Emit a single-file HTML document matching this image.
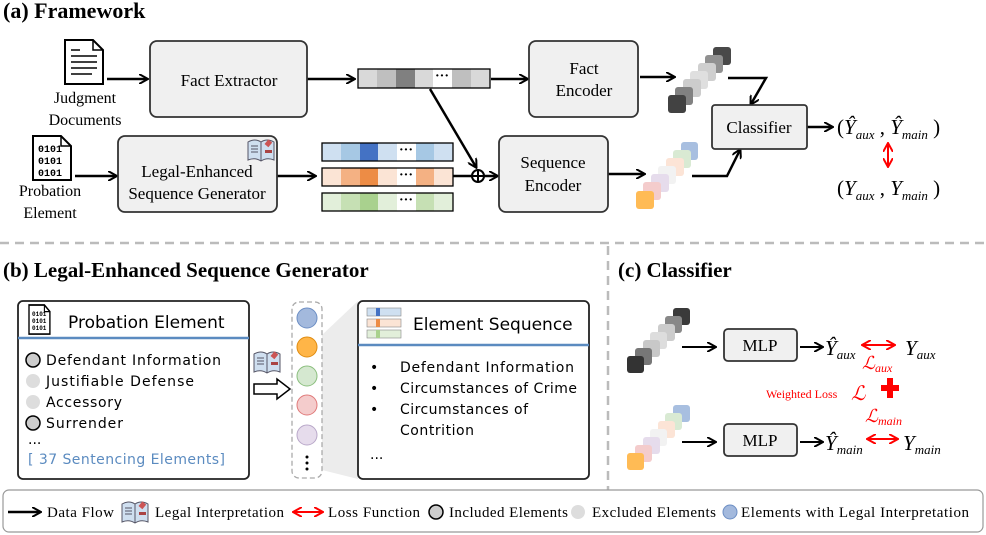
<!DOCTYPE html>
<html><head><meta charset="utf-8"><style>
body{margin:0;background:#fff}
svg{display:block}
.serif{font-family:"Liberation Serif",serif}
.sans{font-family:"DejaVu Sans","Liberation Sans",sans-serif}
</style></head><body>
<svg width="986" height="535" viewBox="0 0 986 535" xmlns="http://www.w3.org/2000/svg">
<defs>
<marker id="ah" markerWidth="10" markerHeight="10" refX="8" refY="5" orient="auto" markerUnits="userSpaceOnUse">
<path d="M0,0 L9,5 L0,10" fill="none" stroke="#000" stroke-width="2"/></marker>
<marker id="rh" markerWidth="10" markerHeight="10" refX="8" refY="5" orient="auto-start-reverse" markerUnits="userSpaceOnUse">
<path d="M0,0 L9,5 L0,10" fill="none" stroke="#f00" stroke-width="2"/></marker>
<g id="doc"><path d="M0,0 H28 L38,10 V44 H0 Z" fill="#fff" stroke="#000" stroke-width="2"/><path d="M28,0 V10 H38" fill="none" stroke="#000" stroke-width="1.5"/></g>
<g id="book"><path d="M1,4 Q8,0 14,4 Q20,0 27,4 V22 Q20,19 14,23 Q8,19 1,22 Z" fill="#cfdff0" stroke="#556" stroke-width="1"/><line x1="14" y1="4" x2="14" y2="23" stroke="#556"/><rect x="18" y="12" width="7" height="3" fill="#a44"/><rect x="19" y="2" width="5" height="6" fill="#c55" transform="rotate(40 21 5)"/><path d="M4,8 H11 M4,11 H11 M4,14 H11" stroke="#556" stroke-width="1"/></g>
</defs>

<!-- (a) -->
<text x="3" y="18" class="serif" font-weight="bold" font-size="22">(a) Framework</text>
<use href="#doc" x="65" y="40"/>
<g stroke="#000" stroke-width="1.5"><line x1="71" y1="50" x2="80" y2="50"/><line x1="71" y1="56" x2="97" y2="56"/><line x1="71" y1="62" x2="97" y2="62"/><line x1="71" y1="68" x2="97" y2="68"/><line x1="71" y1="74" x2="92" y2="74"/></g>
<text x="85" y="103" text-anchor="middle" class="serif" font-size="16">Judgment</text>
<text x="85" y="125" text-anchor="middle" class="serif" font-size="16">Documents</text>
<use href="#doc" x="33" y="136"/>
<g font-family="Liberation Mono,monospace" font-size="10" font-weight="bold"><text x="38" y="152">0101</text><text x="38" y="164">0101</text><text x="38" y="176">0101</text></g>
<text x="50" y="196" text-anchor="middle" class="serif" font-size="16">Probation</text>
<text x="50" y="218" text-anchor="middle" class="serif" font-size="16">Element</text>
<g stroke="#000" stroke-width="2.5" fill="none" marker-end="url(#ah)">
<line x1="107" y1="79" x2="147" y2="79"/>
<line x1="307" y1="79" x2="354" y2="79"/>
<line x1="491" y1="79" x2="527" y2="79"/>
<line x1="640" y1="77" x2="674" y2="77"/>
<line x1="75" y1="176" x2="116" y2="176"/>
<line x1="277" y1="176" x2="315" y2="176"/>
<line x1="430" y1="89" x2="476" y2="167"/>
<line x1="484" y1="176" x2="497" y2="176"/>
<line x1="608" y1="174" x2="644" y2="174"/>
<polyline points="728,78 766,78 751,104"/>
<polyline points="692,176 727,176 740,150"/>
<line x1="807" y1="127" x2="832" y2="127"/>
</g>
<line x1="453" y1="176" x2="472" y2="176" stroke="#000" stroke-width="2.5"/>
<circle cx="478" cy="176" r="6" fill="#fff" stroke="#000" stroke-width="2"/>
<line x1="472" y1="176" x2="484" y2="176" stroke="#000" stroke-width="2"/><line x1="478" y1="170" x2="478" y2="182" stroke="#000" stroke-width="2"/>

<g fill="#f0f0f0" stroke="#333" stroke-width="1.8">
<rect x="150" y="41" width="157" height="76" rx="7"/>
<rect x="529" y="41" width="109" height="76" rx="7"/>
<rect x="118" y="136" width="159" height="76" rx="7"/>
<rect x="499" y="136" width="109" height="76" rx="7"/>
<rect x="712" y="105" width="95" height="44" rx="3"/>
</g>
<g class="serif" font-size="17" text-anchor="middle">
<text x="229" y="86">Fact Extractor</text>
<text x="584" y="74">Fact</text><text x="584" y="96">Encoder</text>
<text x="197" y="177">Legal-Enhanced</text><text x="197" y="199">Sequence Generator</text>
<text x="553" y="168">Sequence</text><text x="553" y="191">Encoder</text>
<text x="759" y="133">Classifier</text>
</g>
<use href="#book" x="247" y="138"/>

<!-- vectors -->
<g stroke="none">
<rect x="358" y="69" width="19" height="19" fill="#d9d9d9"/><rect x="377" y="69" width="19" height="19" fill="#bfbfbf"/><rect x="396" y="69" width="19" height="19" fill="#808080"/><rect x="415" y="69" width="18" height="19" fill="#d9d9d9"/><rect x="433" y="69" width="19" height="19" fill="#fff"/><rect x="452" y="69" width="19" height="19" fill="#bfbfbf"/><rect x="471" y="69" width="19" height="19" fill="#d9d9d9"/>
<rect x="322" y="143" width="19" height="18" fill="#cfe0f1"/><rect x="341" y="143" width="19" height="18" fill="#a6c8e4"/><rect x="360" y="143" width="18" height="18" fill="#4472c4"/><rect x="378" y="143" width="19" height="18" fill="#cfe0f1"/><rect x="397" y="143" width="19" height="18" fill="#fff"/><rect x="416" y="143" width="18" height="18" fill="#a6c8e4"/><rect x="434" y="143" width="19" height="18" fill="#cfe0f1"/>
<rect x="322" y="168" width="19" height="18" fill="#fbe4d5"/><rect x="341" y="168" width="19" height="18" fill="#f4b183"/><rect x="360" y="168" width="18" height="18" fill="#ed8c45"/><rect x="378" y="168" width="19" height="18" fill="#fbe4d5"/><rect x="397" y="168" width="19" height="18" fill="#fff"/><rect x="416" y="168" width="18" height="18" fill="#f4b183"/><rect x="434" y="168" width="19" height="18" fill="#fbe4d5"/>
<rect x="322" y="193" width="19" height="18" fill="#e2efda"/><rect x="341" y="193" width="19" height="18" fill="#c6e0b4"/><rect x="360" y="193" width="18" height="18" fill="#a9d18e"/><rect x="378" y="193" width="19" height="18" fill="#e2efda"/><rect x="397" y="193" width="19" height="18" fill="#fff"/><rect x="416" y="193" width="18" height="18" fill="#c6e0b4"/><rect x="434" y="193" width="19" height="18" fill="#e2efda"/>
</g>
<g fill="none" stroke="#000" stroke-width="1.3">
<rect x="358" y="69" width="132" height="19"/><rect x="322" y="143" width="131" height="18"/><rect x="322" y="168" width="131" height="18"/><rect x="322" y="193" width="131" height="18"/>
</g>
<g class="serif" font-size="14" font-weight="bold" text-anchor="middle"><text x="442" y="80">···</text><text x="406" y="154">···</text><text x="406" y="179">···</text><text x="406" y="204">···</text></g>

<!-- stacked squares top -->
<g opacity="0.92">
<rect x="713" y="47" width="18" height="18" rx="3" fill="#3a3a3a"/>
<rect x="705" y="55" width="18" height="18" rx="3" fill="#888"/>
<rect x="698" y="63" width="18" height="18" rx="3" fill="#ccc"/>
<rect x="690" y="71" width="18" height="18" rx="3" fill="#ddd"/>
<rect x="683" y="79" width="18" height="18" rx="3" fill="#c8c8c8"/>
<rect x="675" y="87" width="18" height="18" rx="3" fill="#777"/>
<rect x="668" y="95" width="18" height="18" rx="3" fill="#333"/>
</g>
<g>
<rect x="681" y="142" width="17" height="18" rx="3" fill="#a8bfe0"/>
<rect x="673" y="150" width="18" height="18" rx="3" fill="#d9ead3"/>
<rect x="666" y="158" width="18" height="18" rx="3" fill="#fce4d6"/>
<rect x="658" y="166" width="18" height="18" rx="3" fill="#f2f2f2"/>
<rect x="651" y="174" width="18" height="18" rx="3" fill="#e6dcec"/>
<rect x="643" y="182" width="18" height="18" rx="3" fill="#f4cccc"/>
<rect x="636" y="191" width="18" height="18" rx="3" fill="#ffbb55"/>
</g>

<g class="serif" font-size="21">
<text x="837" y="134">(<tspan font-style="italic">Ŷ</tspan><tspan font-size="13" font-style="italic" dy="5">aux</tspan><tspan dy="-5"> , </tspan><tspan font-style="italic">Ŷ</tspan><tspan font-size="13" font-style="italic" dy="5">main</tspan><tspan dy="-5"> )</tspan></text>
<text x="837" y="195">(<tspan font-style="italic">Y</tspan><tspan font-size="13" font-style="italic" dy="5">aux</tspan><tspan dy="-5"> , </tspan><tspan font-style="italic">Y</tspan><tspan font-size="13" font-style="italic" dy="5">main</tspan><tspan dy="-5"> )</tspan></text>
</g>
<line x1="888" y1="144" x2="888" y2="166" stroke="#f00" stroke-width="2" marker-start="url(#rh)" marker-end="url(#rh)"/>

<!-- dividers -->
<line x1="0" y1="243" x2="986" y2="243" stroke="#bbb" stroke-width="2.5" stroke-dasharray="9,6"/>
<line x1="608" y1="246" x2="608" y2="490" stroke="#bbb" stroke-width="2.5" stroke-dasharray="9,6"/>

<!-- (b) -->
<text x="3" y="277" class="serif" font-weight="bold" font-size="21">(b) Legal-Enhanced Sequence Generator</text>
<polygon points="322,335 358,301 358,479 322,470" fill="#ececec"/>
<rect x="18" y="301" width="231" height="178" rx="5" fill="#fff" stroke="#222" stroke-width="1.8"/>
<line x1="18" y1="338" x2="249" y2="338" stroke="#5b8bc0" stroke-width="2.5"/>
<g transform="translate(29 305) scale(0.55 0.66)"><path d="M0,0 H28 L38,10 V44 H0 Z" fill="#fff" stroke="#000" stroke-width="2.5"/><path d="M28,0 V10 H38" fill="none" stroke="#000" stroke-width="2"/></g>
<g font-family="Liberation Mono,monospace" font-size="6" font-weight="bold"><text x="32" y="316">0101</text><text x="32" y="323">0101</text><text x="32" y="330">0101</text></g>
<text x="68" y="328" class="sans" font-size="17">Probation Element</text>
<g stroke="#000" stroke-width="1.5"><circle cx="33" cy="360" r="7" fill="#ccc"/><circle cx="33" cy="423" r="7" fill="#ccc"/></g>
<circle cx="33" cy="381" r="7" fill="#ddd"/><circle cx="33" cy="402" r="7" fill="#ddd"/>
<g class="sans" font-size="14">
<text x="46" y="365" textLength="175">Defendant Information</text>
<text x="46" y="386" textLength="148">Justifiable Defense</text>
<text x="46" y="407" textLength="76">Accessory</text>
<text x="46" y="428" textLength="77">Surrender</text>
<text x="28" y="444">...</text>
<text x="28" y="464" fill="#5b8bc0" textLength="197">[ 37 Sentencing Elements]</text>
</g>
<use href="#book" x="253" y="350"/>
<path d="M254,384 H277 V379 L290,389 L277,399 V394 H254 Z" fill="#fff" stroke="#000" stroke-width="1.5"/>
<rect x="292" y="302" width="30" height="176" rx="7" fill="#fff" stroke="#aaa" stroke-width="1.3" stroke-dasharray="5,3"/>
<circle cx="307" cy="318" r="10" fill="#a3b9dd" stroke="#6c8ec4"/>
<circle cx="307" cy="347" r="10" fill="#ffb547" stroke="#e08c10"/>
<circle cx="307" cy="376" r="10" fill="#d5e8d0" stroke="#8bbf7e"/>
<circle cx="307" cy="405" r="10" fill="#f4cccc" stroke="#e07a7a"/>
<circle cx="307" cy="435" r="10" fill="#e6dcec" stroke="#b9a8c9"/>
<g fill="#000"><circle cx="307" cy="457" r="1.5"/><circle cx="307" cy="463" r="1.5"/><circle cx="307" cy="469" r="1.5"/></g>

<rect x="358" y="301" width="231" height="178" rx="5" fill="#fff" stroke="#222" stroke-width="1.8"/>
<line x1="358" y1="345" x2="589" y2="345" stroke="#5b8bc0" stroke-width="2.5"/>
<g stroke="#888" stroke-width="0.6">
<rect x="367" y="308" width="34" height="8" fill="#cfe0f1"/><rect x="367" y="319" width="34" height="8" fill="#fbe4d5"/><rect x="367" y="330" width="34" height="8" fill="#e2efda"/>
</g>
<rect x="376" y="308" width="4" height="8" fill="#4472c4"/><rect x="376" y="319" width="4" height="8" fill="#ed8c45"/><rect x="376" y="330" width="4" height="8" fill="#a9d18e"/>
<text x="413" y="330" class="sans" font-size="17">Element Sequence</text>
<g class="sans" font-size="14">
<text x="370" y="372">•</text><text x="370" y="393">•</text><text x="370" y="414">•</text>
<text x="400" y="372" textLength="174">Defendant Information</text>
<text x="400" y="393" textLength="177">Circumstances of Crime</text>
<text x="400" y="414" textLength="128">Circumstances of</text>
<text x="400" y="435" textLength="74">Contrition</text>
<text x="370" y="459">...</text>
</g>

<!-- (c) -->
<text x="618" y="277" class="serif" font-weight="bold" font-size="21">(c) Classifier</text>
<g>
<rect x="673" y="308" width="17" height="17" rx="3" fill="#3a3a3a"/>
<rect x="665" y="316" width="17" height="17" rx="3" fill="#888"/>
<rect x="658" y="324" width="17" height="17" rx="3" fill="#ccc"/>
<rect x="650" y="332" width="17" height="17" rx="3" fill="#ddd"/>
<rect x="643" y="340" width="17" height="17" rx="3" fill="#c8c8c8"/>
<rect x="635" y="348" width="17" height="17" rx="3" fill="#777"/>
<rect x="627" y="356" width="17" height="17" rx="3" fill="#333"/>
<rect x="673" y="405" width="17" height="17" rx="3" fill="#a8bfe0"/>
<rect x="665" y="413" width="17" height="17" rx="3" fill="#d9ead3"/>
<rect x="658" y="421" width="17" height="17" rx="3" fill="#fce4d6"/>
<rect x="650" y="429" width="17" height="17" rx="3" fill="#f2f2f2"/>
<rect x="643" y="437" width="17" height="17" rx="3" fill="#e6dcec"/>
<rect x="635" y="445" width="17" height="17" rx="3" fill="#f4cccc"/>
<rect x="627" y="453" width="17" height="17" rx="3" fill="#ffbb55"/>
</g>
<g stroke="#000" stroke-width="2" marker-end="url(#ah)">
<line x1="682" y1="347" x2="715" y2="347"/><line x1="800" y1="347" x2="822" y2="347"/>
<line x1="682" y1="442" x2="715" y2="442"/><line x1="800" y1="442" x2="822" y2="442"/>
</g>
<g fill="#f0f0f0" stroke="#333" stroke-width="1.8"><rect x="724" y="329" width="73" height="32" rx="4"/><rect x="724" y="424" width="73" height="32" rx="4"/></g>
<g class="serif" font-size="17" text-anchor="middle"><text x="760" y="351">MLP</text><text x="760" y="446">MLP</text></g>
<g class="serif" font-size="21" font-style="italic">
<text x="825" y="355">Ŷ<tspan font-size="13" dy="4">aux</tspan></text>
<text x="905" y="355">Y<tspan font-size="13" dy="4">aux</tspan></text>
<text x="825" y="450">Ŷ<tspan font-size="13" dy="4">main</tspan></text>
<text x="903" y="450">Y<tspan font-size="13" dy="4">main</tspan></text>
</g>
<g stroke="#f00" stroke-width="2" marker-start="url(#rh)" marker-end="url(#rh)">
<line x1="863" y1="345" x2="894" y2="345"/><line x1="868" y1="439" x2="897" y2="439"/>
</g>
<g class="serif" fill="#f00" font-style="italic">
<text x="862" y="369" font-size="18">ℒ<tspan font-size="12" dy="3">aux</tspan></text>
<text x="851" y="400" font-size="20">ℒ</text>
<text x="865" y="422" font-size="18">ℒ<tspan font-size="12" dy="3">main</tspan></text>
</g>
<text x="766" y="398" class="serif" fill="#f00" font-size="12">Weighted Loss</text>
<path d="M881,385 h6 v-7 h6 v7 h6 v6 h-6 v7 h-6 v-7 h-6 z" fill="#f00"/>

<!-- legend -->
<rect x="3" y="490" width="980" height="42" rx="6" fill="#fff" stroke="#999" stroke-width="1.2"/>
<line x1="8" y1="512" x2="40" y2="512" stroke="#000" stroke-width="2.5" marker-end="url(#ah)"/>
<use href="#book" x="121" y="500"/>
<line x1="294" y1="512" x2="322" y2="512" stroke="#f00" stroke-width="2" marker-start="url(#rh)" marker-end="url(#rh)"/>
<circle cx="436" cy="512" r="7" fill="#ccc" stroke="#000" stroke-width="1.5"/>
<circle cx="578" cy="512" r="7" fill="#ddd"/>
<circle cx="730" cy="512" r="7" fill="#a3b9dd" stroke="#6c8ec4"/>
<g class="serif" font-size="15">
<text x="47" y="517" textLength="67">Data Flow</text>
<text x="155" y="517" textLength="129">Legal Interpretation</text>
<text x="328" y="517" textLength="92">Loss Function</text>
<text x="449" y="517" textLength="119">Included Elements</text>
<text x="592" y="517" textLength="124">Excluded Elements</text>
<text x="741" y="517" textLength="228">Elements with  Legal Interpretation</text>
</g>
</svg>
</body></html>
